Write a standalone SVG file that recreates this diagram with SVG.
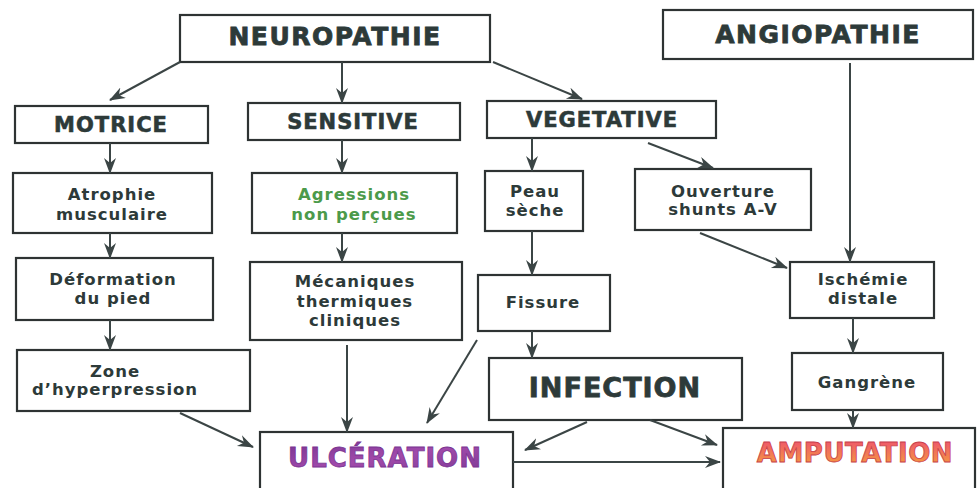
<svg xmlns="http://www.w3.org/2000/svg" width="979" height="488" viewBox="0 0 979 488">
<defs>
<marker id="ah" markerUnits="userSpaceOnUse" markerWidth="16" markerHeight="14" refX="15" refY="6" orient="auto">
<path d="M0,0 L16,6 L0,12 L5,6 z" fill="#3b4545"/>
</marker>
<linearGradient id="gU" x1="0" y1="0" x2="1" y2="1">
<stop offset="0" stop-color="#7a3592"/>
<stop offset="0.5" stop-color="#a14aab"/>
<stop offset="1" stop-color="#7d3a95"/>
</linearGradient>
<linearGradient id="gA" x1="0" y1="0" x2="0" y2="1">
<stop offset="0" stop-color="#ee5070"/>
<stop offset="1" stop-color="#f5a23a"/>
</linearGradient>
<style>
rect{fill:#fff;stroke:#2e3333;stroke-width:2.2}
text{font-family:"DejaVu Sans","Liberation Sans",sans-serif;font-weight:bold;fill:#2d3a39;text-anchor:middle}
.big{font-size:25px;letter-spacing:1.5px;stroke:#2d3a39;stroke-width:0.8}
.mid{font-size:21px;letter-spacing:1px;stroke:#2d3a39;stroke-width:0.6}
.sm{font-size:16.5px;letter-spacing:1px}
.green{fill:#4c9a4a}
#connectors line{stroke:#3b4545;stroke-width:2;marker-end:url(#ah)}
</style>
</defs>
<rect x="0" y="0" width="979" height="488" style="fill:#fff;stroke:none"/>

<g id="neuropathie"><rect x="180" y="15" width="310" height="47"/><text class="big" x="335" y="45">NEUROPATHIE</text></g>
<g id="angiopathie"><rect x="663" y="10" width="310" height="49"/><text class="big" x="818" y="43">ANGIOPATHIE</text></g>
<g id="motrice"><rect x="15" y="106" width="193" height="37"/><text class="mid" x="111" y="132">MOTRICE</text></g>
<g id="sensitive"><rect x="248" y="103" width="212" height="37"/><text class="mid" x="353" y="129">SENSITIVE</text></g>
<g id="vegetative"><rect x="487" y="101" width="229" height="37"/><text class="mid" x="602" y="127">VEGETATIVE</text></g>
<g id="atrophie"><rect x="13" y="173" width="199" height="60"/><text class="sm" x="112" y="200">Atrophie</text><text class="sm" x="112" y="220">musculaire</text></g>
<g id="agressions"><rect x="252" y="173" width="205" height="60"/><text class="sm green" x="354" y="200">Agressions</text><text class="sm green" x="354" y="220">non perçues</text></g>
<g id="peau"><rect x="485" y="171" width="98" height="60"/><text class="sm" x="535" y="197">Peau</text><text class="sm" x="535" y="216">sèche</text></g>
<g id="ouverture"><rect x="635" y="169" width="176" height="61"/><text class="sm" x="723" y="197">Ouverture</text><text class="sm" x="723" y="215">shunts A-V</text></g>
<g id="deformation"><rect x="16" y="258" width="197" height="62"/><text class="sm" x="113" y="285">Déformation</text><text class="sm" x="113" y="304">du pied</text></g>
<g id="mecaniques"><rect x="250" y="262" width="212" height="78"/><text class="sm" x="355" y="287">Mécaniques</text><text class="sm" x="355" y="307">thermiques</text><text class="sm" x="355" y="326">cliniques</text></g>
<g id="zone"><rect x="17" y="350" width="233" height="61"/><text class="sm" x="115" y="377">Zone</text><text class="sm" x="115" y="395">d’hyperpression</text></g>
<g id="fissure"><rect x="478" y="275" width="132" height="56"/><text class="sm" x="543" y="308">Fissure</text></g>
<g id="infection"><rect x="489" y="358" width="253" height="62"/><text x="615" y="397" style="font-size:27px;letter-spacing:1px;stroke:#2d3a39;stroke-width:0.8">INFECTION</text></g>
<g id="ischemie"><rect x="790" y="262" width="144" height="56"/><text class="sm" x="863" y="285">Ischémie</text><text class="sm" x="863" y="304">distale</text></g>
<g id="gangrene"><rect x="792" y="353" width="151" height="57"/><text class="sm" x="867" y="388">Gangrène</text></g>
<g id="ulceration"><rect x="260" y="432" width="253" height="60"/><text x="385" y="467" style="font-size:26px;letter-spacing:1px;fill:url(#gU);stroke:#7a3592;stroke-width:0.8">ULCÉRATION</text></g>
<g id="amputation"><rect x="723" y="428" width="252" height="62"/><text x="855" y="462" style="font-size:26px;letter-spacing:0.5px;fill:url(#gA);stroke:#c8404a;stroke-width:0.8">AMPUTATION</text></g>

<g id="connectors">
<line x1="180" y1="62" x2="110" y2="100"/>
<line x1="342" y1="62" x2="342" y2="103"/>
<line x1="493" y1="62" x2="582" y2="99"/>
<line x1="110" y1="143" x2="110" y2="173"/>
<line x1="342" y1="140" x2="342" y2="173"/>
<line x1="532" y1="138" x2="532" y2="171"/>
<line x1="648" y1="143" x2="713" y2="168"/>
<line x1="850" y1="63" x2="850" y2="262"/>
<line x1="700" y1="233" x2="787" y2="268"/>
<line x1="110" y1="233" x2="110" y2="258"/>
<line x1="342" y1="233" x2="342" y2="262"/>
<line x1="532" y1="231" x2="532" y2="275"/>
<line x1="110" y1="320" x2="110" y2="350"/>
<line x1="347" y1="345" x2="347" y2="432"/>
<line x1="477" y1="340" x2="427" y2="423"/>
<line x1="180" y1="413" x2="253" y2="447"/>
<line x1="532" y1="331" x2="532" y2="358"/>
<line x1="587" y1="422" x2="525" y2="450"/>
<line x1="650" y1="420" x2="717" y2="445"/>
<line x1="513" y1="462" x2="720" y2="462"/>
<line x1="853" y1="318" x2="853" y2="353"/>
<line x1="853" y1="410" x2="853" y2="428"/>
</g>
</svg>
